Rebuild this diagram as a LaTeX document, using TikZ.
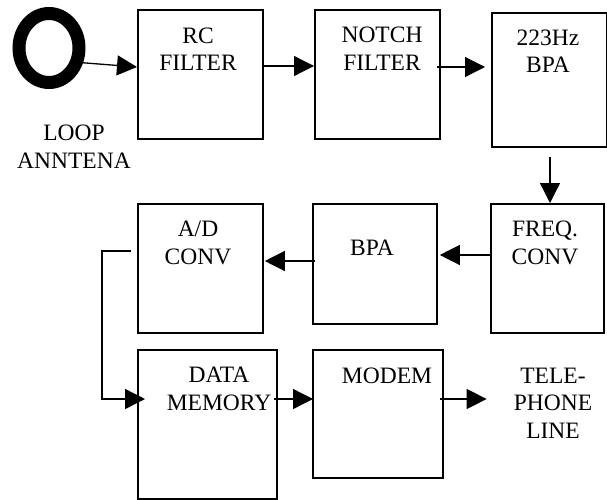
\documentclass[tikz,border=0pt]{standalone}
\usepackage{fontspec}
\setmainfont{Liberation Serif}
\usetikzlibrary{
	arrows.meta,
	shapes.geometric,
	calc
}
\tikzset{
	blk/.style={
		draw,
		line width=1.8pt,
		anchor=north west,
		inner sep=0pt
	},
	lbl/.style={
		align=center,
		anchor=base,
		inner sep=0pt,
		font=\fontsize{23.5}{27.5}\selectfont
	},
	arr/.style={
		line width=1.3pt,
		-{Triangle[length=20pt,width=20pt]}
	}
}

\begin{document}
\begin{tikzpicture}[x=1pt, y=-1pt] %%%%% RECEIVER CHAIN
	\useasboundingbox (0,0) rectangle (607,500);
	% antenna
	\node [draw, ellipse, line width=13pt, minimum width=60pt, minimum height=69pt, inner sep=0pt] (loop) at (49,48) {};
	\node [lbl] (looplbl) at (74,168) {LOOP\\ANNTENA};
	% blocks
	\node [blk, minimum width=125pt, minimum height=129pt] (rc) at (137,9) {};
	\node [blk, minimum width=125pt, minimum height=129pt] (notch) at (314,9) {};
	\node [blk, minimum width=114.5pt, minimum height=134pt] (bpahz) at (491,12) {};
	\node [blk, minimum width=113pt, minimum height=129pt] (freq) at (490,203) {};
	\node [blk, minimum width=124pt, minimum height=120pt] (bpa) at (312,203) {};
	\node [blk, minimum width=125pt, minimum height=129pt] (adc) at (137,203) {};
	\node [blk, minimum width=139pt, minimum height=149pt] (mem) at (137,349) {};
	\node [blk, minimum width=130pt, minimum height=128pt] (modem) at (312,349) {};
	% texts (anchored at the last line)
	\node [lbl] (rclbl) at (198,71) {RC\\FILTER};
	\node [lbl] (notchlbl) at (382,70.5) {NOTCH\\FILTER};
	\node [lbl] (bpahzlbl) at (548,73) {223Hz\\BPA};
	\node [lbl] (freqlbl) at (545,264) {FREQ.\\CONV};
	\node [lbl] (bpalbl) at (372,255) {BPA};
	\node [lbl] (adclbl) at (198,264) {A/D\\CONV};
	\node [lbl] (memlbl) at (219,410) {DATA\\MEMORY};
	\node [lbl] (modemlbl) at (387,383) {MODEM};
	\node [lbl] (tel) at (553,438) {TELE-\\PHONE\\LINE};
	% connectors
	\draw [arr] ($(loop.center)+(24,14)$) -- (rc.west |- 0,67);
	\draw [arr] (rc.east |- 0,66) -- (notch.west |- 0,66);
	\draw [arr, shorten <=-4pt, shorten >=6pt] (notch.east |- 0,67) -- (bpahz.west |- 0,67);
	\draw [arr] (bpahz.south -| 550,0) ++(0,9) -- (freq.north -| 550,0);
	\draw [arr, shorten >=2pt] (freq.west |- 0,255) -- (bpa.east |- 0,255);
	\draw [arr, shorten <=-3pt, shorten >=1pt] (bpa.west |- 0,261) -- (adc.east |- 0,261);
	\draw [arr, shorten >=-8pt] (adc.west |- 0,251) ++(-6,0) -| (102,399) -- (mem.west |- 0,399);
	\draw [arr, shorten <=-4pt, shorten >=-1pt] (mem.east |- 0,399) -- (modem.west |- 0,399);
	\draw [arr, shorten <=-4pt] (modem.east |- 0,399) -- ($(tel.west |- 0,399)+(-27,0)$);
\end{tikzpicture}
\end{document}
